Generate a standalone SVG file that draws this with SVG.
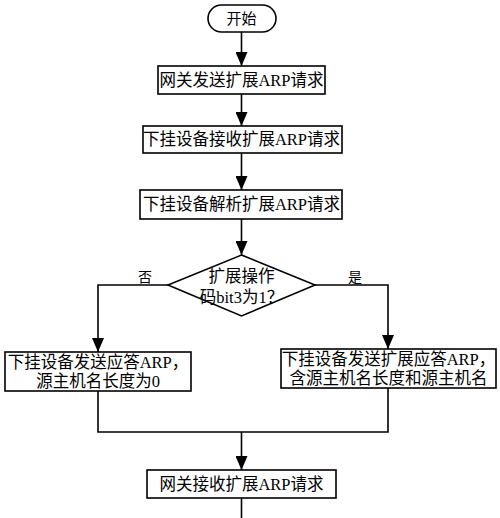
<svg xmlns="http://www.w3.org/2000/svg" width="500" height="518" viewBox="0 0 500 518">
<defs>
<style>
.s{fill:#fff;stroke:#000;stroke-width:1.6}
.t{font-family:"Liberation Serif","Noto Sans CJK SC",serif;font-size:16.5px;fill:#000;text-anchor:middle}
.l{fill:none;stroke:#000;stroke-width:1.6}
</style>
<marker id="a" markerWidth="14" markerHeight="12" refX="14" refY="6" orient="auto" markerUnits="userSpaceOnUse" viewBox="0 0 14 12">
<path d="M0,0 L14,6 L0,12 Z" fill="#000"/>
</marker>
</defs>
<rect width="500" height="518" fill="#fff"/>
<g id="connectors">
<path class="l" d="M241.5,32 V66" marker-end="url(#a)"/>
<path class="l" d="M241.5,94 V126" marker-end="url(#a)"/>
<path class="l" d="M241.5,153 V190" marker-end="url(#a)"/>
<path class="l" d="M241.5,219 V255" marker-end="url(#a)"/>
<path class="l" d="M168,285 H98 V352" marker-end="url(#a)"/>
<path class="l" d="M315,285 H388 V349" marker-end="url(#a)"/>
<path class="l" d="M98,391 V432 H388 V388"/>
<path class="l" d="M241.5,432 V470" marker-end="url(#a)"/>
<path class="l" d="M241.5,498 V518"/>
<text class="t" x="145" y="282" style="font-size:14px">否</text>
<text class="t" x="355" y="282" style="font-size:14px">是</text>
</g>
<g id="start">
<rect class="s" x="208" y="5" width="68" height="27" rx="13.5"/>
<text class="t" x="241.5" y="24" style="font-size:15px">开始</text>
</g>
<g id="n1">
<rect class="s" x="158" y="66" width="167" height="28"/>
<text class="t" x="241.5" y="86">网关发送扩展ARP请求</text>
</g>
<g id="n2">
<rect class="s" x="143" y="126" width="199" height="27"/>
<text class="t" x="241.5" y="145">下挂设备接收扩展ARP请求</text>
</g>
<g id="n3">
<rect class="s" x="140" y="190" width="202" height="29"/>
<text class="t" x="241.5" y="210">下挂设备解析扩展ARP请求</text>
</g>
<g id="decision">
<polygon class="s" points="241.5,255 315,285 241.5,316 168,285"/>
<text class="t" x="241.5" y="282">扩展操作</text>
<text class="t" x="241.5" y="303">码bit3为1？</text>
</g>
<g id="no">
<rect class="s" x="5" y="352" width="186" height="39"/>
<text class="t" x="98" y="368">下挂设备发送应答ARP，</text>
<text class="t" x="98" y="387">源主机名长度为0</text>
</g>
<g id="yes">
<rect class="s" x="281" y="349" width="215" height="39"/>
<text class="t" x="388.5" y="365">下挂设备发送扩展应答ARP，</text>
<text class="t" x="388.5" y="384">含源主机名长度和源主机名</text>
</g>
<g id="n4">
<rect class="s" x="147" y="470" width="189" height="28"/>
<text class="t" x="241.5" y="490">网关接收扩展ARP请求</text>
</g>
</svg>
